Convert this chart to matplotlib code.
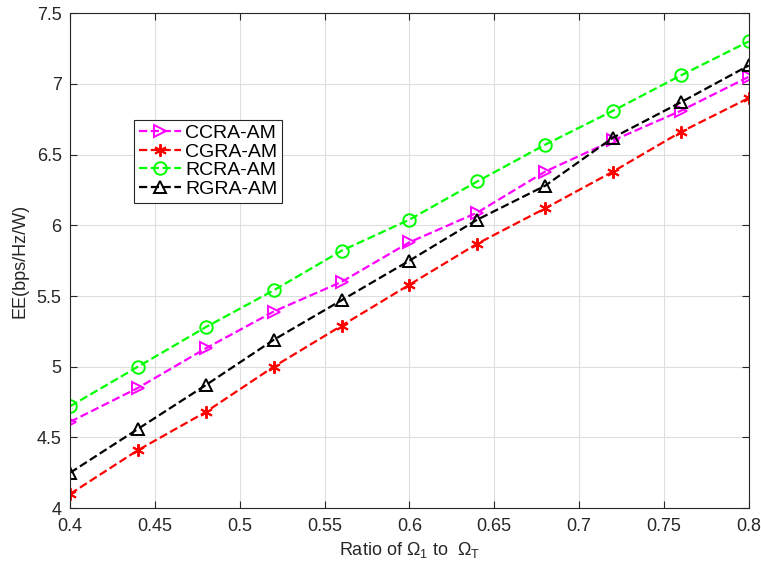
import matplotlib
matplotlib.use('Agg')
import matplotlib.pyplot as plt
from matplotlib.ticker import FuncFormatter

'''
DATA
'''

ratio = [0.40, 0.44, 0.48, 0.52, 0.56, 0.60, 0.64, 0.68, 0.72, 0.76, 0.80]
ccra_am = [4.61, 4.85, 5.13, 5.39, 5.60, 5.88, 6.09, 6.38, 6.60, 6.81, 7.05]
cgra_am = [4.10, 4.41, 4.68, 5.00, 5.29, 5.58, 5.87, 6.12, 6.38, 6.66, 6.90]
rcra_am = [4.72, 5.00, 5.28, 5.54, 5.82, 6.04, 6.31, 6.57, 6.81, 7.06, 7.30]
rgra_am = [4.25, 4.56, 4.87, 5.19, 5.47, 5.75, 6.04, 6.28, 6.62, 6.87, 7.13]
x_ticks = [0.4, 0.45, 0.5, 0.55, 0.6, 0.65, 0.7, 0.75, 0.8]
y_ticks = [4, 4.5, 5, 5.5, 6, 6.5, 7, 7.5]

'''
PLOT
'''

plt.rcParams['font.family'] = ['Liberation Sans', 'DejaVu Sans']
plt.rcParams['mathtext.fontset'] = 'custom'
plt.rcParams['mathtext.rm'] = 'Liberation Sans'
plt.rcParams['mathtext.it'] = 'Liberation Sans'

fig = plt.figure(figsize=(7.61, 5.71), dpi=100)
ax = fig.add_axes([0.092, 0.110, 0.892, 0.867])

asterisk = (6, 2, 0)
ax.plot(ratio, ccra_am, '--', color='#ff00ff', marker='>', mfc='none', ms=9, mew=1.4, lw=1.6, label='CCRA-AM')
ax.plot(ratio, cgra_am, '--', color='#ff0000', marker=asterisk, ms=9, mew=1.4, lw=1.6, label='CGRA-AM')
ax.plot(ratio, rcra_am, '--', color='#00ff00', marker='o', mfc='none', ms=9, mew=1.4, lw=1.6, label='RCRA-AM')
ax.plot(ratio, rgra_am, '--', color='black', marker='^', mfc='none', ms=9, mew=1.4, lw=1.6, label='RGRA-AM')

ax.set_xlim(0.4, 0.8)
ax.set_ylim(4, 7.5)
ax.set_xticks(x_ticks)
ax.set_yticks(y_ticks)
ax.xaxis.set_major_formatter(FuncFormatter(lambda v, p: '%g' % v))
ax.yaxis.set_major_formatter(FuncFormatter(lambda v, p: '%g' % v))
ax.tick_params(direction='in', labelsize=13, colors='#262626', top=True, right=True, length=5)
ax.tick_params(axis='x', pad=7)
ax.tick_params(axis='y', pad=6)
ax.grid(True, color='#dedede', lw=0.8)
for s in ax.spines.values():
    s.set_color('#262626')
    s.set_linewidth(0.8)

ax.set_xlabel(r'Ratio of $\Omega_1$ to  $\Omega_T$', fontsize=13, color='#262626', labelpad=4)
ax.set_ylabel('EE(bps/Hz/W)', fontsize=13, color='#262626', labelpad=6)

leg = ax.legend(loc='upper left', bbox_to_anchor=(0.094, 0.785), fontsize=14,
                fancybox=False, framealpha=1, edgecolor='#262626',
                handlelength=2.2, handletextpad=0.2, labelspacing=0.05,
                borderpad=0.25, borderaxespad=0)
leg.get_frame().set_linewidth(0.8)

fig.savefig('out.png', dpi=100)
